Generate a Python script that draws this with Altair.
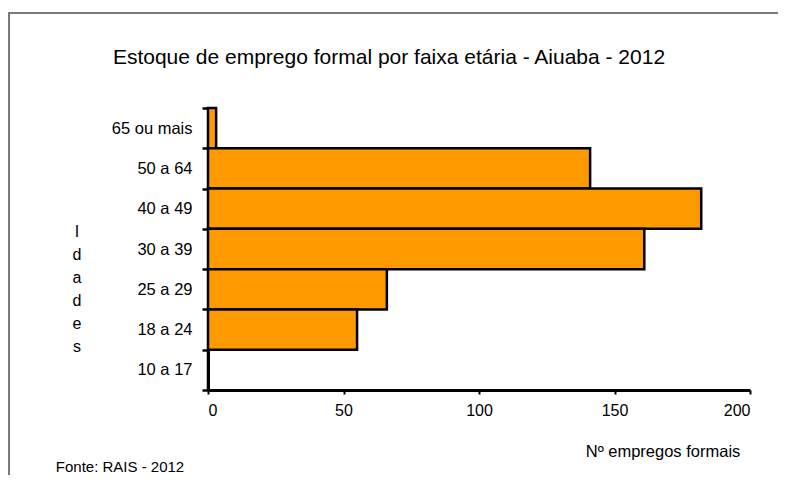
import altair as alt
import pandas as pd

faixas = ["65 ou mais", "50 a 64", "40 a 49", "30 a 39", "25 a 29", "18 a 24", "10 a 17"]
empregos = [3, 141, 182, 161, 66, 55, 0]
x_ticks = [0, 50, 100, 150, 200]

titulo = "Estoque de emprego formal por faixa etária - Aiuaba - 2012"
titulo_x = "Nº empregos formais"
titulo_y = ["I", "d", "a", "d", "e", "s"]
fonte = "Fonte: RAIS - 2012"

FONT = "Liberation Sans, Arial"

df = pd.DataFrame({"faixa": faixas, "n": empregos})
one = alt.Data(values=[{"k": 1}])

W, H = 542, 282

bars = alt.Chart(df).mark_bar(
    color="#FF9900", stroke="black", strokeWidth=2.5
).encode(
    x=alt.X("n:Q", scale=alt.Scale(domain=[0, 200], nice=False),
            axis=alt.Axis(values=x_ticks, title=None, grid=False, tickSize=4,
                          labelPadding=8, labelFontSize=16, labelFont=FONT,
                          labelColor="black", domainWidth=3, domainColor="black",
                          tickWidth=2, tickColor="black")),
    y=alt.Y("faixa:N", sort=faixas,
            scale=alt.Scale(paddingInner=0, paddingOuter=0),
            axis=alt.Axis(title=None, tickBand="extent", tickSize=6, labelPadding=10,
                          labelFontSize=16.5, labelFont=FONT, labelColor="black",
                          domainWidth=3, domainColor="black", tickWidth=2.5,
                          tickColor="black", grid=False)),
)

frame = alt.Chart(one).mark_rect(fill=None, stroke="#7a7a7a", strokeWidth=2).encode(
    x=alt.value(-199), x2=alt.value(W + 60), y=alt.value(-95), y2=alt.value(H + 150)
)

t_title = alt.Chart(one).mark_text(
    text=titulo, font=FONT, fontSize=21, color="black", align="center", baseline="middle"
).encode(x=alt.value(181), y=alt.value(-50))

t_x = alt.Chart(one).mark_text(
    text=titulo_x, font=FONT, fontSize=16.5, color="black", align="center", baseline="middle"
).encode(x=alt.value(455), y=alt.value(344))

t_y = alt.Chart(one).mark_text(
    text=titulo_y, font=FONT, fontSize=16, lineHeight=23, color="black",
    align="center", baseline="middle"
).encode(x=alt.value(-131), y=alt.value(124))

t_fonte = alt.Chart(one).mark_text(
    text=fonte, font=FONT, fontSize=15, color="black", align="center", baseline="middle"
).encode(x=alt.value(-88), y=alt.value(359))

chart = alt.layer(frame, bars, t_title, t_x, t_y, t_fonte).properties(
    width=W, height=H,
    padding={"left": 200, "top": 100, "right": 28, "bottom": 85},
    autosize=alt.AutoSizeParams(type="none"),
).configure_view(stroke=None)

chart.save("out.html", embed_options={"renderer": "svg", "actions": False})
